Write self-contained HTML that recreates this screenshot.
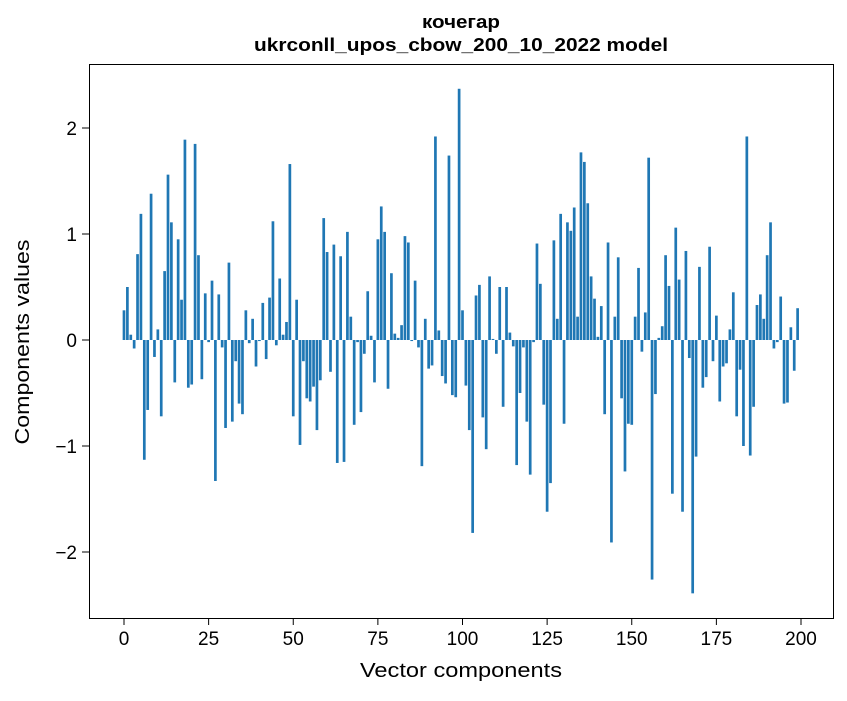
<!DOCTYPE html>
<html><head><meta charset="utf-8"><style>
body{margin:0;background:#fff;font-family:"Liberation Sans","DejaVu Sans",sans-serif;}
</style></head><body>
<svg width="847" height="696" xmlns="http://www.w3.org/2000/svg" font-family="Liberation Sans, DejaVu Sans, sans-serif">
<text x="461" y="28" text-anchor="middle" font-size="18" font-weight="bold" textLength="78" lengthAdjust="spacingAndGlyphs">кочегар</text>
<text x="461" y="51" text-anchor="middle" font-size="18" font-weight="bold" textLength="414" lengthAdjust="spacingAndGlyphs">ukrconll_upos_cbow_200_10_2022 model</text>
<g id="bars"></g>
<rect x="89.5" y="64.5" width="744" height="554" fill="none" stroke="#000" stroke-width="1"/>
<g id="xt"></g>
<g id="yt"></g>
<text x="461" y="677" text-anchor="middle" font-size="20" textLength="202" lengthAdjust="spacingAndGlyphs">Vector components</text>
<text transform="translate(29,342) rotate(-90)" text-anchor="middle" font-size="20" textLength="205" lengthAdjust="spacingAndGlyphs">Components values</text>
</svg>
<script>
const values=[0.28,0.50,0.05,-0.08,0.81,1.19,-1.13,-0.66,1.38,-0.16,0.10,-0.72,0.65,1.56,1.11,-0.40,0.95,0.38,1.89,-0.45,
-0.42,1.85,0.80,-0.37,0.44,-0.02,0.56,-1.33,0.43,-0.07,-0.83,0.73,-0.77,-0.20,-0.60,-0.70,0.28,-0.03,0.20,-0.25,
-0.01,0.35,-0.18,0.40,1.12,-0.05,0.58,0.05,0.17,1.66,-0.72,0.38,-0.99,-0.20,-0.55,-0.58,-0.44,-0.85,-0.38,1.15,
0.83,-0.30,0.90,-1.16,0.79,-1.15,1.02,0.22,-0.80,-0.02,-0.68,-0.13,0.46,0.04,-0.40,0.95,1.26,1.02,-0.46,0.63,
0.06,0.02,0.14,0.98,0.92,-0.01,0.56,-0.07,-1.19,0.20,-0.27,-0.24,1.92,0.09,-0.34,-0.41,1.74,-0.52,-0.54,2.37,0.28,
-0.43,-0.85,-1.82,0.42,0.52,-0.73,-1.03,0.60,0.01,-0.13,0.50,-0.63,0.50,0.07,-0.06,-1.18,-0.50,-0.07,-0.77,-1.27,
-0.02,0.91,0.53,-0.61,-1.62,-1.35,0.94,0.20,1.19,-0.79,1.11,1.03,1.25,0.22,1.77,1.68,1.29,0.60,0.39,0.03,
0.32,-0.70,0.92,-1.91,0.22,0.78,-0.55,-1.24,-0.79,-0.80,0.22,0.68,-0.11,0.26,1.72,-2.26,-0.51,0.02,0.13,0.80,
0.51,-1.45,1.06,0.57,-1.62,0.84,-0.17,-2.39,-1.10,0.69,-0.45,-0.35,0.88,-0.20,0.23,-0.58,-0.25,-0.22,0.10,0.45,
-0.72,-0.28,-1.00,1.92,-1.09,-0.63,0.33,0.43,0.20,0.80,1.11,-0.08,-0.02,0.41,-0.60,-0.59,0.12,-0.29,0.30];
const xTicks=[0,25,50,75,100,125,150,175,200];
const yTicks=[-2,-1,0,1,2];
const NS="http://www.w3.org/2000/svg";
const xS=v=>124+v*3.385;
const yS=v=>340-v*106;
const bars=document.getElementById('bars');
values.forEach((v,i)=>{
 const r=document.createElementNS(NS,'rect');
 
 
 const y0=yS(0),y1=yS(v);
 r.setAttribute('x',xS(i)-1.35);r.setAttribute('width',2.7);
 r.setAttribute('y',Math.min(y0,y1));r.setAttribute('height',Math.max(Math.abs(y1-y0),0.3));
 r.setAttribute('fill','#1f77b4');bars.appendChild(r);
});
const xt=document.getElementById('xt');
xTicks.forEach(t=>{
 const l=document.createElementNS(NS,'line');
 
 
 l.setAttribute('x1',xS(t));l.setAttribute('x2',xS(t));l.setAttribute('y1',618);l.setAttribute('y2',625);l.setAttribute('stroke','#000');xt.appendChild(l);
 const s=document.createElementNS(NS,'text');
 
 
 s.setAttribute('x',xS(t));s.setAttribute('y',645);s.setAttribute('text-anchor','middle');s.setAttribute('font-size','19');s.textContent=t;xt.appendChild(s);
});
const yt=document.getElementById('yt');
yTicks.forEach(t=>{
 const l=document.createElementNS(NS,'line');
 
 
 l.setAttribute('x1',82);l.setAttribute('x2',89);l.setAttribute('y1',yS(t));l.setAttribute('y2',yS(t));l.setAttribute('stroke','#000');yt.appendChild(l);
 const s=document.createElementNS(NS,'text');
 
 
 s.setAttribute('x',77);s.setAttribute('y',yS(t)+7);s.setAttribute('text-anchor','end');s.setAttribute('font-size','19');s.textContent=t<0?'\u2212'+(-t):t;yt.appendChild(s);
});
</script>
</body></html>
